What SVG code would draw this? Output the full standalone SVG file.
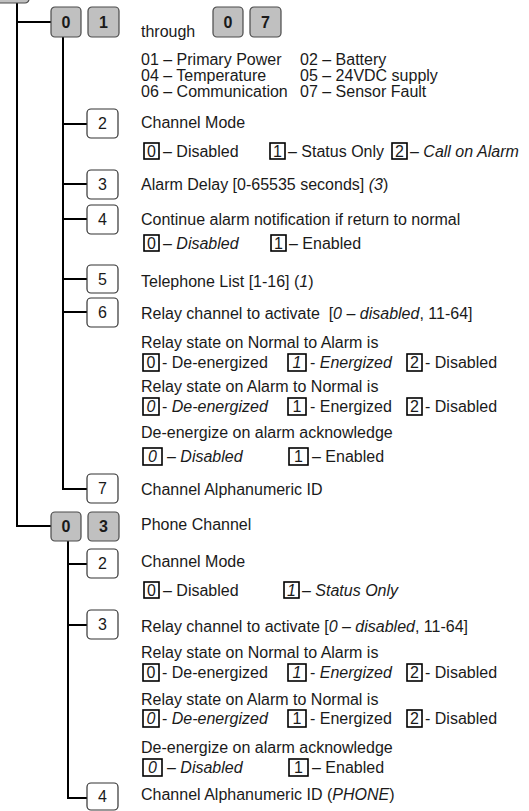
<svg xmlns="http://www.w3.org/2000/svg" width="529" height="811" viewBox="0 0 529 811">
<style>
.t{font-family:"Liberation Sans",Arial,sans-serif;font-size:16px;fill:#1a1a1a;white-space:pre}
.i{font-style:italic}
.b{font-weight:bold}
.c{text-anchor:middle}
.gb{fill:#c0c0c0;stroke:#4a4a4a;stroke-width:1.2}
.wb{fill:#fff;stroke:#333;stroke-width:1.2}
.ob{fill:#fff;stroke:#000;stroke-width:1.6}
.ln{stroke:#000;stroke-width:2;fill:none}
</style>
<rect width="529" height="811" fill="#fff"/>
<g id="connectors">
<path class="ln" d="M17,3 V526 H51 M17,22 H51"/>
<path class="ln" d="M63,37 V489 H87 M63,124 H87 M63,184 H87 M63,219 H87 M63,279 H87 M63,312 H87"/>
<path class="ln" d="M68,541 V798 H87 M68,564 H87 M68,625 H87"/>
</g>
<g id="top-box"><rect class="gb" x="-10" y="-26" width="39" height="29" rx="4"/></g>
<g id="n01">
<rect class="gb" x="51" y="7" width="30" height="30" rx="4"/><text class="t b c" x="66" y="28">0</text>
<rect class="gb" x="88" y="7" width="31" height="30" rx="4"/><text class="t b c" x="103.5" y="28">1</text>
</g>
<g id="n07">
<text class="t" x="141" y="37">through</text>
<rect class="gb" x="213" y="7" width="30" height="30" rx="4"/><text class="t b c" x="228" y="28">0</text>
<rect class="gb" x="250" y="7" width="31" height="30" rx="4"/><text class="t b c" x="265.5" y="28">7</text>
<text class="t" x="141" y="65">01 – Primary Power</text><text class="t" x="300" y="65">02 – Battery</text>
<text class="t" x="141" y="81">04 – Temperature</text><text class="t" x="300" y="81">05 – 24VDC supply</text>
<text class="t" x="141" y="97">06 – Communication</text><text class="t" x="300" y="97">07 – Sensor Fault</text>
</g>
<g id="a2">
<rect class="wb" x="87" y="109" width="31" height="29" rx="4"/><text class="t c" x="102.5" y="129">2</text>
<text class="t" x="141" y="128">Channel Mode</text>
<rect class="ob" x="144" y="143" width="15" height="16"/><text class="t c" x="151.5" y="157">0</text><text class="t" x="163" y="157">– Disabled</text>
<rect class="ob" x="270" y="143" width="15" height="16"/><text class="t c" x="277.5" y="157">1</text><text class="t" x="288" y="157">– Status Only</text>
<rect class="ob" x="392" y="143" width="15" height="16"/><text class="t c" x="399.5" y="157">2</text><text class="t" x="410" y="157">– <tspan class="i">Call on Alarm</tspan></text>
</g>
<g id="a3">
<rect class="wb" x="87" y="170" width="31" height="29" rx="4"/><text class="t c" x="102.5" y="190">3</text>
<text class="t" x="141" y="190">Alarm Delay [0-65535 seconds] <tspan class="i">(3</tspan>)</text>
</g>
<g id="a4">
<rect class="wb" x="87" y="205" width="31" height="29" rx="4"/><text class="t c" x="102.5" y="225">4</text>
<text class="t" x="141" y="225">Continue alarm notification if return to normal</text>
<rect class="ob" x="144" y="235" width="15" height="16"/><text class="t c" x="151.5" y="249">0</text><text class="t" x="163" y="249">– <tspan class="i">Disabled</tspan></text>
<rect class="ob" x="271" y="235" width="15" height="16"/><text class="t c" x="278.5" y="249">1</text><text class="t" x="289" y="249">– Enabled</text>
</g>
<g id="a5">
<rect class="wb" x="87" y="265" width="31" height="28" rx="4"/><text class="t c" x="102.5" y="285">5</text>
<text class="t" x="141" y="287">Telephone List [1-16] (<tspan class="i">1</tspan>)</text>
</g>
<g id="a6">
<rect class="wb" x="87" y="298" width="31" height="29" rx="4"/><text class="t c" x="102.5" y="318">6</text>
<text class="t" x="141" y="319">Relay channel to activate  [<tspan class="i">0 – disabled</tspan>, 11-64]</text>
<text class="t" x="141" y="348">Relay state on Normal to Alarm is</text>
<rect class="ob" x="143" y="354" width="16" height="17"/><text class="t c" x="151" y="368">0</text><text class="t" x="162" y="368">- De-energized</text>
<rect class="ob" x="288" y="354" width="18" height="17"/><text class="t c i" x="297" y="368">1</text><text class="t" x="310" y="368">- <tspan class="i">Energized</tspan></text>
<rect class="ob" x="407" y="354" width="15" height="17"/><text class="t c" x="414.5" y="368">2</text><text class="t" x="425" y="368">- Disabled</text>
<text class="t" x="141" y="392">Relay state on Alarm to Normal is</text>
<rect class="ob" x="143" y="398" width="16" height="17"/><text class="t c i" x="151" y="412">0</text><text class="t" x="162" y="412">- <tspan class="i">De-energized</tspan></text>
<rect class="ob" x="288" y="398" width="18" height="17"/><text class="t c" x="297" y="412">1</text><text class="t" x="310" y="412">- Energized</text>
<rect class="ob" x="407" y="398" width="15" height="17"/><text class="t c" x="414.5" y="412">2</text><text class="t" x="425" y="412">- Disabled</text>
<text class="t" x="141" y="438">De-energize on alarm acknowledge</text>
<rect class="ob" x="143" y="448" width="19" height="17"/><text class="t c i" x="152.5" y="462">0</text><text class="t" x="167" y="462">– <tspan class="i">Disabled</tspan></text>
<rect class="ob" x="289" y="448" width="19" height="17"/><text class="t c" x="298.5" y="462">1</text><text class="t" x="312" y="462">– Enabled</text>
</g>
<g id="a7">
<rect class="wb" x="87" y="474" width="31" height="29" rx="4"/><text class="t c" x="102.5" y="494">7</text>
<text class="t" x="141" y="495">Channel Alphanumeric ID</text>
</g>
<g id="n03">
<rect class="gb" x="51" y="512" width="30" height="29" rx="4"/><text class="t b c" x="66" y="532">0</text>
<rect class="gb" x="88" y="512" width="31" height="29" rx="4"/><text class="t b c" x="103.5" y="532">3</text>
<text class="t" x="141" y="530">Phone Channel</text>
</g>
<g id="b2">
<rect class="wb" x="87" y="549" width="31" height="29" rx="4"/><text class="t c" x="102.5" y="569">2</text>
<text class="t" x="141" y="567">Channel Mode</text>
<rect class="ob" x="144" y="582" width="15" height="16"/><text class="t c" x="151.5" y="596">0</text><text class="t" x="163" y="596">– Disabled</text>
<rect class="ob" x="284" y="582" width="15" height="16"/><text class="t c i" x="291.5" y="596">1</text><text class="t" x="302" y="596">– <tspan class="i">Status Only</tspan></text>
</g>
<g id="b3">
<rect class="wb" x="87" y="610" width="31" height="29" rx="4"/><text class="t c" x="102.5" y="630">3</text>
<text class="t" x="141" y="632">Relay channel to activate [<tspan class="i">0 – disabled</tspan>, 11-64]</text>
<text class="t" x="141" y="658">Relay state on Normal to Alarm is</text>
<rect class="ob" x="143" y="664" width="16" height="17"/><text class="t c" x="151" y="678">0</text><text class="t" x="162" y="678">- De-energized</text>
<rect class="ob" x="288" y="664" width="18" height="17"/><text class="t c i" x="297" y="678">1</text><text class="t" x="310" y="678">- <tspan class="i">Energized</tspan></text>
<rect class="ob" x="407" y="664" width="15" height="17"/><text class="t c" x="414.5" y="678">2</text><text class="t" x="425" y="678">- Disabled</text>
<text class="t" x="141" y="705">Relay state on Alarm to Normal is</text>
<rect class="ob" x="143" y="710" width="16" height="17"/><text class="t c i" x="151" y="724">0</text><text class="t" x="162" y="724">- <tspan class="i">De-energized</tspan></text>
<rect class="ob" x="288" y="710" width="18" height="17"/><text class="t c" x="297" y="724">1</text><text class="t" x="310" y="724">- Energized</text>
<rect class="ob" x="407" y="710" width="15" height="17"/><text class="t c" x="414.5" y="724">2</text><text class="t" x="425" y="724">- Disabled</text>
<text class="t" x="141" y="753">De-energize on alarm acknowledge</text>
<rect class="ob" x="143" y="759" width="19" height="17"/><text class="t c i" x="152.5" y="773">0</text><text class="t" x="167" y="773">– <tspan class="i">Disabled</tspan></text>
<rect class="ob" x="289" y="759" width="19" height="17"/><text class="t c" x="298.5" y="773">1</text><text class="t" x="312" y="773">– Enabled</text>
</g>
<g id="b4">
<rect class="wb" x="87" y="783" width="31" height="27" rx="4"/><text class="t c" x="102.5" y="802">4</text>
<text class="t" x="141" y="800">Channel Alphanumeric ID (<tspan class="i">PHONE</tspan>)</text>
</g>
</svg>
